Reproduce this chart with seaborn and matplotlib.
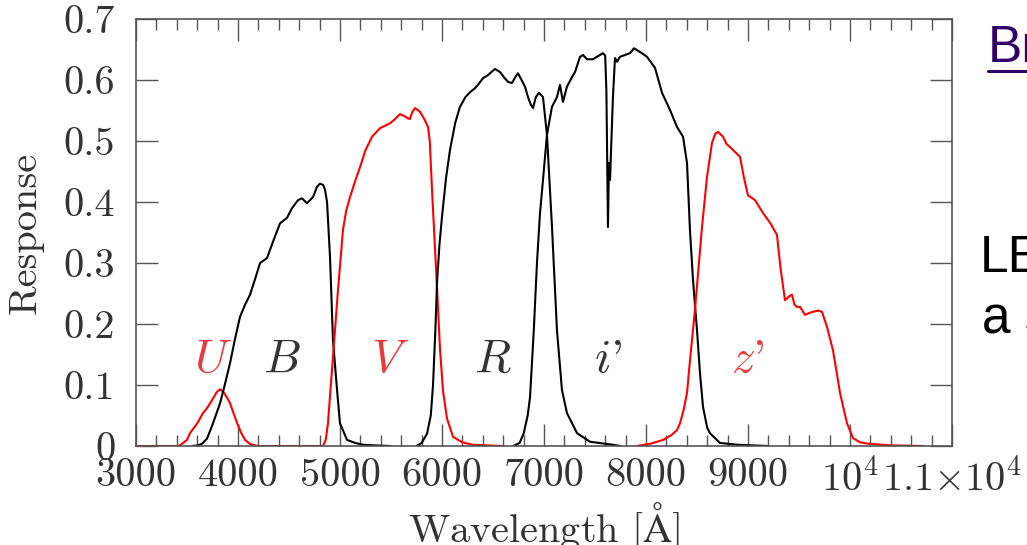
import numpy as np
import pandas as pd
import matplotlib
matplotlib.use("Agg")
import matplotlib.pyplot as plt
from matplotlib.ticker import MultipleLocator, FixedLocator
from matplotlib.lines import Line2D
import seaborn as sns

# ---------------- data ----------------
U_wave = [3000, 3400, 3431, 3500, 3529, 3600, 3657, 3700, 3745, 3790, 3824, 3860,
          3900, 3922, 3960, 3990, 4030, 4069, 4120, 4200]
U_resp = [0.0, 0.0, 0.001, 0.010, 0.021, 0.037, 0.054, 0.063, 0.075, 0.088, 0.093, 0.088,
          0.077, 0.070, 0.052, 0.038, 0.022, 0.010, 0.003, 0.0]

B_wave = [3550, 3608, 3650, 3696, 3750, 3824, 3870, 3922, 3970, 4020, 4070, 4118, 4170,
          4216, 4284, 4350, 4412, 4480, 4530, 4588, 4627, 4676, 4735, 4775, 4804, 4835,
          4853, 4873, 4902, 4931, 4971, 5000, 5069, 5150, 5226, 5350, 5490]
B_resp = [0.0, 0.001, 0.004, 0.012, 0.035, 0.070, 0.100, 0.136, 0.175, 0.212, 0.232, 0.248, 0.275,
          0.300, 0.308, 0.338, 0.365, 0.374, 0.390, 0.403, 0.406, 0.398, 0.408, 0.425, 0.430, 0.428,
          0.420, 0.400, 0.310, 0.174, 0.092, 0.037, 0.010, 0.005, 0.002, 0.001, 0.0]

V_wave = [4200, 4833, 4860, 4882, 4931, 4980, 5029, 5060, 5098, 5150, 5196, 5250, 5314, 5392,
          5490, 5540, 5588, 5630, 5657, 5686, 5710, 5735, 5784, 5830, 5863, 5880, 5902, 5951,
          5980, 6010, 6049, 6108, 6200, 6300, 6600]
V_resp = [0.0, 0.0, 0.010, 0.037, 0.146, 0.255, 0.354, 0.385, 0.408, 0.435, 0.457, 0.485, 0.507, 0.521,
          0.529, 0.536, 0.544, 0.541, 0.538, 0.536, 0.548, 0.554, 0.548, 0.535, 0.523, 0.500, 0.420, 0.260,
          0.160, 0.090, 0.045, 0.015, 0.006, 0.002, 0.0]

R_wave = [5750, 5800, 5853, 5890, 5912, 5935, 5951, 5975, 6000, 6040, 6078, 6130, 6176, 6230,
          6275, 6320, 6353, 6402, 6451, 6490, 6520, 6569, 6610, 6647, 6686, 6720, 6745, 6780,
          6814, 6843, 6870, 6892, 6920, 6951, 6990, 7029, 7078, 7127, 7176, 7225, 7324, 7451,
          7676, 7750]
R_resp = [0.0, 0.005, 0.020, 0.050, 0.100, 0.190, 0.267, 0.330, 0.376, 0.440, 0.485, 0.530, 0.556, 0.572,
          0.580, 0.586, 0.592, 0.603, 0.608, 0.614, 0.618, 0.613, 0.604, 0.597, 0.595, 0.605, 0.611, 0.600,
          0.589, 0.572, 0.560, 0.554, 0.572, 0.579, 0.572, 0.510, 0.360, 0.190, 0.092, 0.054, 0.021, 0.007,
          0.002, 0.0]

I_wave = [6700, 6760, 6800, 6840, 6863, 6900, 6931, 6960, 6990, 7029, 7078, 7127, 7157, 7186,
          7225, 7275, 7304, 7353, 7382, 7422, 7480, 7529, 7578, 7600, 7612, 7627, 7637, 7647,
          7676, 7696, 7716, 7745, 7794, 7843, 7882, 7950, 8010, 8088, 8157, 8235, 8304, 8363,
          8402, 8431, 8461, 8500, 8529, 8559, 8600, 8627, 8725, 8900, 9200]
I_resp = [0.0, 0.005, 0.020, 0.050, 0.080, 0.190, 0.300, 0.380, 0.436, 0.510, 0.556, 0.572, 0.592, 0.564,
          0.589, 0.605, 0.613, 0.638, 0.641, 0.634, 0.634, 0.639, 0.644, 0.640, 0.580, 0.359, 0.464, 0.436,
          0.572, 0.636, 0.630, 0.638, 0.641, 0.644, 0.652, 0.645, 0.638, 0.620, 0.579, 0.551, 0.523, 0.507,
          0.464, 0.354, 0.272, 0.190, 0.120, 0.064, 0.030, 0.021, 0.005, 0.002, 0.0]

Z_wave = [7912, 8050, 8167, 8250, 8304, 8333, 8370, 8402, 8431, 8480, 8549, 8598, 8647, 8680,
          8706, 8755, 8790, 8824, 8873, 8922, 8960, 9000, 9069, 9147, 9220, 9284, 9320, 9363,
          9400, 9431, 9455, 9480, 9510, 9559, 9600, 9637, 9690, 9725, 9775, 9833, 9870, 9902,
          9971, 10029, 10100, 10167, 10400, 10716]
Z_resp = [0.0, 0.004, 0.010, 0.018, 0.026, 0.037, 0.060, 0.087, 0.140, 0.223, 0.359, 0.441, 0.497, 0.512,
          0.515, 0.507, 0.495, 0.490, 0.482, 0.474, 0.440, 0.411, 0.403, 0.382, 0.365, 0.346, 0.290, 0.239,
          0.245, 0.248, 0.232, 0.228, 0.228, 0.215, 0.218, 0.220, 0.222, 0.220, 0.195, 0.157, 0.120, 0.087,
          0.037, 0.013, 0.006, 0.004, 0.001, 0.0]

filter_names = ["$U$", "$B$", "$V$", "$R$", "$i$'", "$z$'"]
label_wave = [3755, 4431, 5490, 6500, 7627, 9000]
label_resp = [0.121, 0.121, 0.121, 0.121, 0.121, 0.121]

x_ticks = [3000, 4000, 5000, 6000, 7000, 8000, 9000, 10000, 11000]
x_ticklabels = ["3000", "4000", "5000", "6000", "7000", "8000", "9000",
                r"$10^4$", r"$1.1{\times}10^4$"]
y_ticks = [0, 0.1, 0.2, 0.3, 0.4, 0.5, 0.6, 0.7]
y_ticklabels = ["0", "0.1", "0.2", "0.3", "0.4", "0.5", "0.6", "0.7"]

# ---------------- style ----------------
sns.set_style("ticks")
plt.rcParams["font.family"] = ["cmr10", "DejaVu Serif"]
plt.rcParams["mathtext.fontset"] = "cm"
plt.rcParams["axes.formatter.use_mathtext"] = True

RED = "#ff0000"
BLACK = "#000000"
SPINE = "#555555"
TXT = "#333333"

fig = plt.figure(figsize=(10.27, 5.45), dpi=100)
fig.patch.set_facecolor("white")
ax = fig.add_axes([136 / 1027, 1 - 446 / 545, (952 - 136) / 1027, (446 - 19) / 545])

curves = [(U_wave, U_resp, RED), (B_wave, B_resp, BLACK), (V_wave, V_resp, RED),
          (R_wave, R_resp, BLACK), (I_wave, I_resp, BLACK), (Z_wave, Z_resp, RED)]
for w, r, c in curves:
    df = pd.DataFrame({"wave": w, "resp": r})
    sns.lineplot(data=df, x="wave", y="resp", sort=False, estimator=None,
                 color=c, lw=1.5, ax=ax, legend=False)

label_colors = ["#e83a3a", TXT, "#e83a3a", TXT, TXT, "#e83a3a"]
for name, lx, ly, lc in zip(filter_names, label_wave, label_resp, label_colors):
    ax.text(lx, ly, name, color=lc, fontsize=34, ha="center", va="baseline")

ax.set_xlim(3000, 11000)
ax.set_ylim(0, 0.7)
ax.xaxis.set_major_locator(FixedLocator(x_ticks))
ax.set_xticklabels(x_ticklabels)
ax.xaxis.set_minor_locator(MultipleLocator(200))
ax.yaxis.set_major_locator(FixedLocator(y_ticks))
ax.set_yticklabels(y_ticklabels)

ax.tick_params(axis="both", which="both", direction="in", top=True, right=True,
               color=SPINE, labelcolor=TXT, labelsize=29, width=1.0)
ax.tick_params(axis="both", which="major", length=16)
ax.tick_params(axis="x", which="minor", length=8)
ax.tick_params(axis="x", which="major", pad=9)
ax.tick_params(axis="y", which="major", pad=15)
for sp in ax.spines.values():
    sp.set_color(SPINE)
    sp.set_linewidth(1.2)

ax.set_xlabel(r"Wavelength [$\mathrm{\AA}$]", fontsize=29, color=TXT, labelpad=1)
ax.set_ylabel("Response", fontsize=29, color=TXT, labelpad=14)

# slide text partly visible at the right edge
fig.text(988 / 1027, 1 - 62 / 545, "Br", color="#330066", fontsize=37,
         family="Liberation Sans", ha="left", va="baseline")
fig.add_artist(Line2D([988 / 1027, 1.0], [1 - 71 / 545, 1 - 71 / 545],
                      transform=fig.transFigure, color="#330066", lw=2.2))
fig.text(980 / 1027, 1 - 272 / 545, "LE", color="black", fontsize=37,
         family="Liberation Sans", ha="left", va="baseline")
fig.text(982 / 1027, 1 - 334 / 545, "a s", color="black", fontsize=37,
         family="Liberation Sans", ha="left", va="baseline")

fig.savefig("out.png", dpi=100, facecolor="white")
